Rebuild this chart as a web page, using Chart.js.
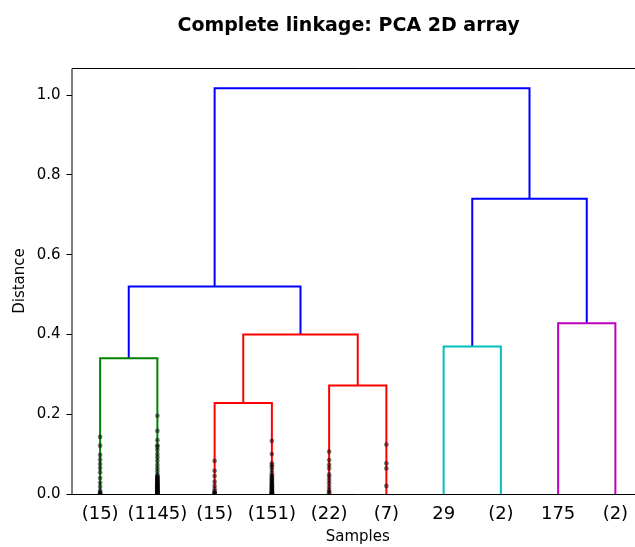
<!DOCTYPE html>
<html><head><meta charset="utf-8">
<script src="https://cdn.jsdelivr.net/npm/chart.js@4.4.1/dist/chart.umd.min.js"></script>
<style>html,body{margin:0;padding:0;background:#fff;overflow:hidden}#wrap{width:635px;height:547px;overflow:hidden;position:relative}canvas{display:block}</style>
</head><body><div id="wrap"><canvas id="c" width="652" height="547"></canvas></div>
<script>
// ---- data ----
const chartTitle = 'Complete linkage: PCA 2D array';
const leafLabels = ['(15)', '(1145)', '(15)', '(151)', '(22)', '(7)', '29', '(2)', '175', '(2)'];
// merges: node ids 0-9 are leaves, merge k creates node 10+k
const mergeLeft   = [0, 2, 4, 11, 10, 6, 8, 15, 14];
const mergeRight  = [1, 3, 5, 12, 13, 7, 9, 16, 17];
const mergeHeight = [0.340, 0.228, 0.272, 0.400, 0.520, 0.370, 0.428, 0.740, 1.017];
const mergeColor  = ['#008000', '#ff0000', '#ff0000', '#ff0000', '#0000ff', '#00bfbf', '#bf00bf', '#0000ff', '#0000ff'];
// contraction marks (heights of hidden merges) per leaf
const contraction0 = [0.143, 0.121, 0.098, 0.086, 0.075, 0.065, 0.054, 0.040, 0.028, 0.018, 0.008, 0.004, 0.002, 0.001];
const contraction1 = [0.196, 0.158, 0.135, 0.122, 0.118, 0.110, 0.100, 0.092, 0.083, 0.073, 0.064, 0.056, 0.048,
  0.045, 0.043, 0.041, 0.040, 0.038, 0.036, 0.035, 0.033, 0.031, 0.030, 0.028, 0.027, 0.025, 0.024, 0.022, 0.021,
  0.019, 0.018, 0.017, 0.015, 0.014, 0.013, 0.012, 0.010, 0.009, 0.008, 0.007, 0.006, 0.005, 0.004, 0.003, 0.002, 0.001];
const contraction2 = [0.083, 0.058, 0.045, 0.031, 0.020, 0.012, 0.006, 0.003, 0.002, 0.001];
const contraction3 = [0.133, 0.100, 0.077, 0.072, 0.067, 0.060, 0.052, 0.047, 0.044, 0.041, 0.038, 0.036, 0.033,
  0.031, 0.028, 0.026, 0.024, 0.021, 0.019, 0.017, 0.015, 0.013, 0.011, 0.009, 0.007, 0.005, 0.004, 0.003, 0.002, 0.001];
const contraction4 = [0.106, 0.085, 0.073, 0.064, 0.049, 0.043, 0.035, 0.027, 0.018, 0.010, 0.005, 0.002];
const contraction5 = [0.124, 0.077, 0.064, 0.020];
const contractionMarks = [contraction0, contraction1, contraction2, contraction3, contraction4, contraction5, [], [], [], []];
const yTicks = [0.0, 0.2, 0.4, 0.6, 0.8, 1.0];
const xLabel = 'Samples';
const yLabel = 'Distance';

// ---- build ----
const FONT = "'DejaVu Sans', 'Liberation Sans', sans-serif";
const leafPos = leafLabels.map((_, i) => 5 + 10 * i);
const xMax = leafLabels.length * 10;
const yMax = Math.max(...mergeHeight) * 1.05;
const nodeX = leafPos.slice();
const nodeY = leafPos.map(() => 0);
mergeHeight.forEach((h, k) => {
  nodeX.push((nodeX[mergeLeft[k]] + nodeX[mergeRight[k]]) / 2);
  nodeY.push(h);
});
const datasets = [];
mergeHeight.forEach((h, k) => {
  const a = mergeLeft[k], b = mergeRight[k];
  datasets.push({
    type: 'scatter', showLine: true, fill: false, tension: 0,
    borderColor: mergeColor[k], borderWidth: 2, pointRadius: 0, pointHoverRadius: 0,
    borderCapStyle: 'butt', borderJoinStyle: 'miter', order: 2,
    data: [{x: nodeX[a], y: nodeY[a]}, {x: nodeX[a], y: h}, {x: nodeX[b], y: h}, {x: nodeX[b], y: nodeY[b]}]
  });
});
const markPts = [];
contractionMarks.forEach((arr, i) => arr.forEach(v => markPts.push({x: leafPos[i], y: v})));
datasets.push({
  type: 'scatter', data: markPts, pointRadius: 2.4, pointHoverRadius: 2.4,
  backgroundColor: 'rgba(0,0,0,0.5)', borderWidth: 0, order: 1
});

const framePlugin = {
  id: 'frame',
  afterDraw(chart) {
    const {ctx, chartArea: a} = chart;
    ctx.save();
    ctx.strokeStyle = '#000'; ctx.lineWidth = 1;
    ctx.beginPath();
    ctx.moveTo(a.left + 0.5, a.bottom + 0.5);
    ctx.lineTo(a.left + 0.5, a.top + 0.5);
    ctx.lineTo(a.right + 0.5, a.top + 0.5);
    ctx.lineTo(a.right + 0.5, a.bottom + 0.5);
    ctx.closePath();
    ctx.stroke();
    ctx.fillStyle = '#000';
    ctx.font = 'bold 19px ' + FONT;
    ctx.textAlign = 'center'; ctx.textBaseline = 'alphabetic';
    ctx.fillText(chartTitle, 348.5, 31);
    ctx.restore();
  }
};

new Chart(document.getElementById('c'), {
  type: 'scatter',
  data: {datasets},
  plugins: [framePlugin],
  options: {
    responsive: false, animation: false, devicePixelRatio: 1,
    layout: {padding: {top: 68, right: 8, left: 0, bottom: 0}},
    plugins: {legend: {display: false}, tooltip: {enabled: false}, title: {display: false}},
    scales: {
      x: {
        type: 'linear', min: 0, max: xMax,
        afterBuildTicks: s => { s.ticks = leafPos.map(v => ({value: v})); },
        afterFit: s => { s.height = 53; },
        grid: {display: false, drawTicks: false},
        border: {display: false},
        ticks: {
          padding: 10, color: '#000', maxRotation: 0, autoSkip: false,
          font: {family: FONT, size: 18},
          callback: (v, i) => leafLabels[i]
        },
        title: {display: true, text: xLabel, color: '#000', font: {family: FONT, size: 15}, padding: {top: 0, bottom: 1}}
      },
      y: {
        type: 'linear', min: 0, max: yMax,
        afterBuildTicks: s => { s.ticks = yTicks.map(v => ({value: v})); },
        afterFit: s => { s.width = 71.5; },
        grid: {display: true, drawOnChartArea: false, drawTicks: true, tickLength: 5, color: '#000', lineWidth: 1},
        border: {display: false},
        ticks: {
          padding: 6, color: '#000',
          font: {family: FONT, size: 15},
          callback: v => Number(v).toFixed(1)
        },
        title: {display: true, text: yLabel, color: '#000', font: {family: FONT, size: 15}, padding: {top: 11, bottom: 0}}
      }
    }
  }
});
</script>
</body></html>
